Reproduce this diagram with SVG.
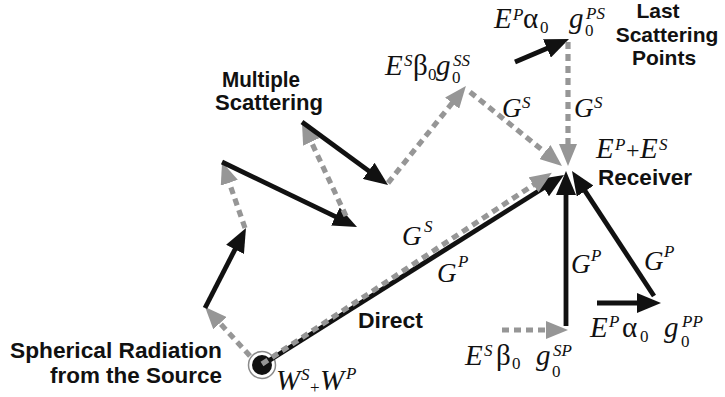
<svg xmlns="http://www.w3.org/2000/svg" width="725" height="397" viewBox="0 0 725 397">
<defs>
<style>
.bk{stroke:#111;stroke-width:4.8;fill:none;marker-end:url(#hb)}
.gr{stroke:#969696;stroke-width:5.2;fill:none;stroke-dasharray:7 5;marker-end:url(#hg)}
.lb{font-family:"Liberation Sans",Arial,sans-serif;font-weight:bold;font-size:22px;fill:#111}
.m{font-family:"Liberation Serif","Times New Roman",serif;font-style:italic;font-size:29px;fill:#111}
.u{font-style:normal}
.s{font-size:17px}
.g{font-size:27px}
</style>
<marker id="hb" markerUnits="userSpaceOnUse" viewBox="0 0 24 20" markerWidth="24" markerHeight="20" refX="3" refY="10" orient="auto"><path d="M0,0 L24,10 L0,20 Z" fill="#111"/></marker>
<marker id="hg" markerUnits="userSpaceOnUse" viewBox="0 0 22 18" markerWidth="22" markerHeight="18" refX="3" refY="9" orient="auto"><path d="M0,0 L22,9 L0,18 Z" fill="#969696"/></marker>
</defs>
<rect width="725" height="397" fill="#fff"/>

<g id="source">
<circle cx="262" cy="365" r="13.5" fill="#fff" stroke="#8a8a8a" stroke-width="1.5"/>
<circle cx="262" cy="365" r="10" fill="#111"/>
</g>

<g id="connectors">
<line class="gr" x1="250" y1="356" x2="217.9" y2="321"/>
<line class="bk" x1="205" y1="308" x2="236.4" y2="246.7"/>
<line class="gr" x1="245" y1="228" x2="228.3" y2="179.9"/>
<line class="bk" x1="222" y1="162" x2="338.1" y2="217.9"/>
<line class="gr" x1="346" y1="216" x2="310" y2="139.2"/>
<line class="bk" x1="302" y1="122" x2="371.1" y2="172.6"/>
<line class="gr" x1="388" y1="183" x2="454" y2="100.8"/>
<line class="gr" x1="470" y1="92" x2="547.2" y2="154"/>
<line class="bk" x1="515" y1="62" x2="549.7" y2="47.2"/>
<line class="gr" x1="568" y1="42" x2="568" y2="147"/>
<line class="bk" x1="262" y1="365" x2="546.2" y2="186.2"/>
<line class="gr" x1="262" y1="364" x2="536" y2="183.2"/>
<line class="bk" x1="566" y1="326" x2="566" y2="192"/>
<line class="bk" x1="654" y1="296" x2="583.5" y2="188.6"/>
<line class="gr" x1="502" y1="330" x2="549" y2="330"/>
<line class="bk" x1="597" y1="303" x2="640" y2="303"/>
</g>

<g id="multiple-scattering">
<text class="lb" x="222" y="87" textLength="78" lengthAdjust="spacingAndGlyphs">Multiple</text>
<text class="lb" x="215" y="110" textLength="108" lengthAdjust="spacingAndGlyphs">Scattering</text>
</g>

<g id="last-scattering-points">
<text class="lb" x="658" y="18" text-anchor="middle" style="font-size:21px">Last</text>
<text class="lb" x="667" y="42" text-anchor="middle" style="font-size:21px">Scattering</text>
<text class="lb" x="664" y="65" text-anchor="middle" style="font-size:21px">Points</text>
</g>

<g id="receiver">
<text class="lb" x="598" y="185" textLength="94" lengthAdjust="spacingAndGlyphs">Receiver</text>
<text class="m"><tspan x="596" y="158">E</tspan><tspan class="s" x="615" y="150">P</tspan><tspan class="u" x="626" y="158" style="font-size:24px">+</tspan><tspan x="640" y="158">E</tspan><tspan class="s" x="659" y="150">S</tspan></text>
</g>

<g id="source-labels">
<text class="lb" x="222" y="358" text-anchor="end" textLength="212" lengthAdjust="spacingAndGlyphs">Spherical Radiation</text>
<text class="lb" x="222" y="383" text-anchor="end" textLength="172" lengthAdjust="spacingAndGlyphs">from the Source</text>
<text class="m"><tspan x="276" y="390">W</tspan><tspan class="s" x="301" y="380">S</tspan><tspan class="u s" x="310" y="393">+</tspan><tspan x="320" y="390">W</tspan><tspan class="s" x="346" y="379">P</tspan></text>
</g>

<g id="direct">
<text class="lb" x="358" y="328" textLength="65" lengthAdjust="spacingAndGlyphs">Direct</text>
<text class="m g"><tspan x="402" y="245">G</tspan><tspan class="s" x="424" y="232">S</tspan></text>
<text class="m g"><tspan x="437" y="282">G</tspan><tspan class="s" x="458" y="267">P</tspan></text>
</g>

<g id="scatter-ss">
<text class="m"><tspan x="385" y="75">E</tspan><tspan class="s" x="404" y="66">S</tspan><tspan class="u" x="413" y="75">β</tspan><tspan class="u s" x="428" y="80">0</tspan><tspan x="436" y="75">g</tspan><tspan class="s" x="453" y="66">SS</tspan><tspan class="u s" x="452" y="83">0</tspan></text>
</g>

<g id="scatter-ps">
<text class="m"><tspan x="494" y="28">E</tspan><tspan class="s" x="513" y="20">P</tspan><tspan class="u" x="523" y="28">α</tspan><tspan class="u s" x="540" y="33">0</tspan><tspan x="569" y="28">g</tspan><tspan class="s" x="586" y="19">PS</tspan><tspan class="u s" x="585" y="36">0</tspan></text>
</g>

<g id="g-labels">
<text class="m g"><tspan x="502" y="117">G</tspan><tspan class="s" x="522" y="108">S</tspan></text>
<text class="m g"><tspan x="574" y="117">G</tspan><tspan class="s" x="594" y="108">S</tspan></text>
<text class="m g"><tspan x="571" y="273">G</tspan><tspan class="s" x="591" y="261">P</tspan></text>
<text class="m g"><tspan x="644" y="270">G</tspan><tspan class="s" x="664" y="257">P</tspan></text>
</g>

<g id="scatter-sp">
<text class="m"><tspan x="465" y="365">E</tspan><tspan class="s" x="484" y="356">S</tspan><tspan class="u" x="496" y="365">β</tspan><tspan class="u s" x="512" y="369">0</tspan><tspan x="536" y="365">g</tspan><tspan class="s" x="553" y="356">SP</tspan><tspan class="u s" x="552" y="377">0</tspan></text>
</g>

<g id="scatter-pp">
<text class="m"><tspan x="590" y="337">E</tspan><tspan class="s" x="609" y="327">P</tspan><tspan class="u" x="622" y="337">α</tspan><tspan class="u s" x="640" y="342">0</tspan><tspan x="664" y="337">g</tspan><tspan class="s" x="682" y="327">PP</tspan><tspan class="u s" x="681" y="347">0</tspan></text>
</g>
</svg>
